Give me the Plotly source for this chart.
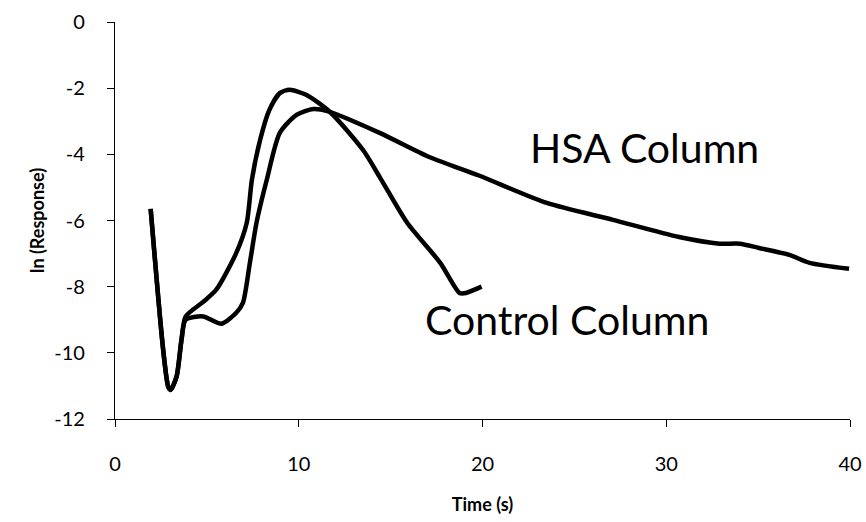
import plotly.graph_objects as go

# Time (s) and ln(Response) for each column
control_t = [1.94, 2.62, 2.9, 3.03, 3.35, 3.62, 3.85, 4.8, 5.5, 6.6, 7.17, 7.45, 7.9, 8.4, 8.97, 9.5,
             10.4, 11.7, 13.5, 14.4, 15.9, 17.7, 18.75, 19.1, 19.95]
control_y = [-5.65, -9.9, -11.03, -11.12, -10.72, -9.6, -8.9, -8.46, -8.1, -6.98, -6.07, -4.77, -3.56,
             -2.66, -2.15, -2.05, -2.2, -2.72, -3.87, -4.68, -6.07, -7.28, -8.19, -8.19, -8.0]

hsa_t = [1.94, 2.62, 2.9, 3.03, 3.35, 3.62, 3.85, 4.8, 5.8, 6.6, 6.96, 7.34, 7.7, 8.26, 8.97, 9.9, 10.8,
         11.6, 14.4, 17.1, 19.8, 23.5, 27.1, 30.7, 32.9, 34.0, 35.05, 36.7, 37.8, 39.95]
hsa_y = [-5.65, -9.9, -11.03, -11.12, -10.72, -9.6, -9.0, -8.9, -9.12, -8.79, -8.49, -7.28, -6.07,
         -4.77, -3.35, -2.8, -2.63, -2.7, -3.35, -4.08, -4.64, -5.47, -5.98, -6.5, -6.7, -6.7, -6.83,
         -7.04, -7.28, -7.46]

x_ticks = [0, 10, 20, 30, 40]
y_ticks = [0, -2, -4, -6, -8, -10, -12]
y_tick_text = ["0", "-2", "-4", "-6", "-8", "-10", "-12"]

FONT = "Lato, 'Open Sans', sans-serif"

fig = go.Figure()
fig.add_trace(go.Scatter(x=control_t, y=control_y, mode="lines", name="Control Column",
                         line=dict(color="black", width=4.5, shape="spline", smoothing=0.7)))
fig.add_trace(go.Scatter(x=hsa_t, y=hsa_y, mode="lines", name="HSA Column",
                         line=dict(color="black", width=4.5, shape="spline", smoothing=0.7)))

fig.add_annotation(x=28.8, y=-3.8, text="HSA Column", showarrow=False,
                   font=dict(family=FONT, size=41, color="black"))
fig.add_annotation(x=24.6, y=-9.0, text="Control Column", showarrow=False,
                   font=dict(family=FONT, size=41, color="black"))

fig.update_layout(
    width=866, height=522,
    margin=dict(l=115, r=16, t=22, b=103),
    paper_bgcolor="white", plot_bgcolor="white",
    showlegend=False,
    font=dict(family=FONT, color="black"),
    xaxis=dict(range=[0, 40], tickvals=x_ticks, showgrid=False, zeroline=False, automargin=False,
               showline=True, linecolor="black", linewidth=1.3,
               ticks="outside", ticklen=7, tickcolor="black",
               tickfont=dict(size=20, family=FONT), ticklabelstandoff=20,
               title=dict(text="<b>Time (s)</b>", font=dict(size=18, family=FONT), standoff=24)),
    yaxis=dict(range=[-12, 0], tickvals=y_ticks, ticktext=y_tick_text, showgrid=False, zeroline=False,
               automargin=False, showline=True, linecolor="black", linewidth=1.3,
               ticks="outside", ticklen=7, tickcolor="black",
               tickfont=dict(size=20, family=FONT), ticklabelstandoff=18,
               title=dict(text="<b>ln (Response)</b>", font=dict(size=18, family=FONT), standoff=4)),
)

fig.write_html("out.html")
